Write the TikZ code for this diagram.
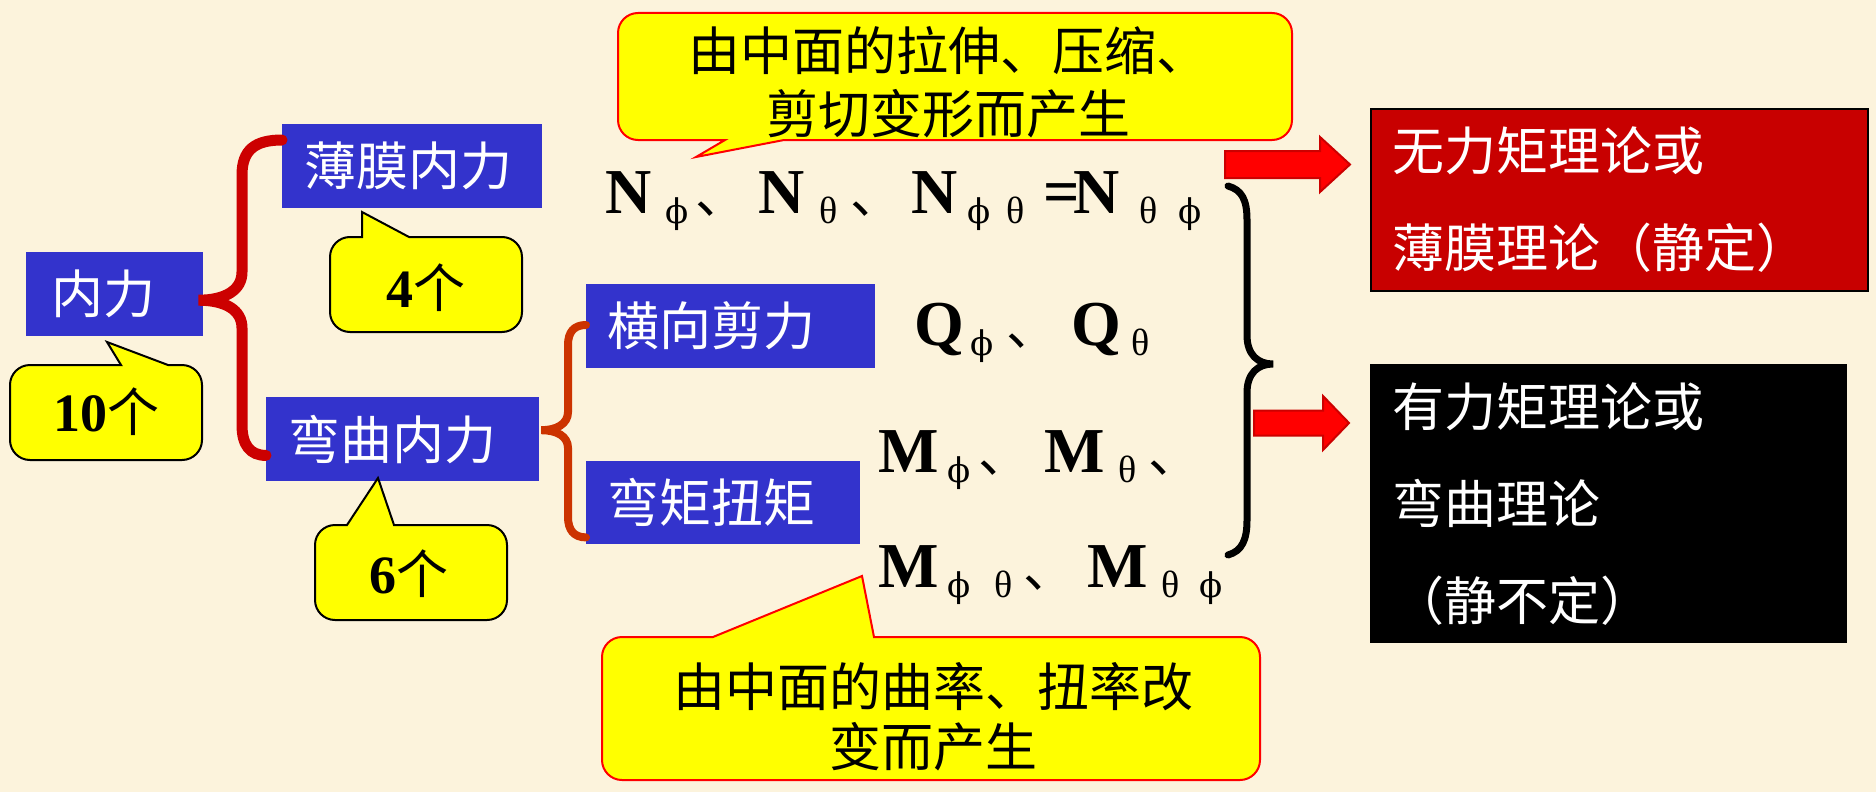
\documentclass[tikz,border=0pt]{standalone}
\usepackage{fontspec}
\setmainfont{Liberation Serif}
\newfontfamily\cjk{Noto Sans CJK SC}
\newfontfamily\symf{DejaVu Serif}
\usetikzlibrary{calc}
\definecolor{bgc}{RGB}{252,243,220}
\definecolor{boxblue}{RGB}{51,51,204}
\definecolor{boxred}{RGB}{200,0,0}
\definecolor{braceA}{RGB}{204,0,0}
\definecolor{braceB}{RGB}{204,51,0}
\definecolor{callyel}{RGB}{255,255,0}
\definecolor{arrred}{RGB}{255,0,0}
\definecolor{arrline}{RGB}{204,0,0}
\newcommand\pp[2]{\makebox[0pt][l]{\hspace*{#1pt}#2}}
\newcommand\sbs[1]{\raisebox{-10pt}{\fontsize{38}{38}\selectfont #1}}
\newcommand\ph{\raisebox{-10pt}{\symf\fontsize{34}{34}\selectfont ϕ}}
\newcommand\Lt[1]{{\rmfamily\fontsize{64}{64}\selectfont\bfseries #1}}
\newcommand\dun{{\cjk\fontsize{52}{52}\selectfont 、}}
\newcommand\num[1]{{\rmfamily\bfseries\fontsize{54}{54}\selectfont #1}}
\newcommand\callout[9]{%
  \draw[#1] (#7,#3) [rounded corners=20pt] -- (#4,#3) -- (#4,#5) -- (#2,#5) -- (#2,#3) [sharp corners] -- (#6,#3) -- (#8,#9) -- cycle;}
\tikzset{
  bbox/.style={fill=boxblue, text=white, font=\cjk\fontsize{52}{52}\selectfont,
    inner ysep=0pt, anchor=north west, align=left},
  theory/.style={text=white, font=\cjk\fontsize{52}{97}\selectfont,
    inner xsep=22pt, inner ysep=0pt, anchor=north west, align=left},
  smallcall/.style={fill=callyel, draw=black, line width=2pt},
  bigcall/.style={fill=callyel, draw=red, line width=2pt},
  calltext/.style={font=\cjk\fontsize{52}{52}\selectfont, align=center, inner sep=0pt},
  brace1/.style={draw=braceA, line width=11pt, line cap=round},
  brace2/.style={draw=braceB, line width=8pt, line cap=round},
  brace3/.style={draw=black, line width=7pt, line cap=round},
  blockarrow/.style={fill=arrred, draw=arrline, line width=2pt, line join=miter},
  row/.style={anchor=base west, inner sep=0pt}
}
\begin{document}
\begin{tikzpicture}[x=1pt,y=-1pt]
\useasboundingbox (0,0) rectangle (1876,792);
\fill[bgc] (0,0) rectangle (1876,792);

% blue boxes
\node[bbox, inner xsep=25pt, text width=127pt, minimum height=84pt] (neili) at (26,252) {内力};
\node[bbox, inner xsep=22pt, text width=216pt, minimum height=84pt] (bomo) at (282,124) {薄膜内力};
\node[bbox, inner xsep=22pt, text width=229pt, minimum height=84pt] (wanqu) at (266,397) {弯曲内力};
\node[bbox, inner xsep=21pt, text width=247pt, minimum height=84pt] (hengxiang) at (586,284) {横向剪力};
\node[bbox, inner xsep=21pt, text width=232pt, minimum height=83pt] (wanju) at (586,461) {弯矩扭矩};

% theory boxes
\node[theory, fill=boxred, draw=black, line width=1.5pt, text width=453pt, minimum height=182pt] (redbox) at (1370,108) {无力矩理论或\\薄膜理论（静定）};
\node[theory, fill=black, text width=433pt, minimum height=279pt] (blackbox) at (1370,364) {有力矩理论或\\弯曲理论\\（静不定）};

% braces
\coordinate (b1t) at ($(bomo.north west)+(0,16)$);
\coordinate (b1m) at ($(neili.east)+(-5,6)$);
\coordinate (b1b) at ($(wanqu.south west)+(0,-26)$);
\draw[brace1] (b1t) .. controls +(-27,0) and +(0,-25) .. (242,175) -- (242,272)
  .. controls +(0,18) and +(27,0) .. (b1m) .. controls +(27,0) and +(0,-18) .. (242,328)
  -- (242,425) .. controls +(0,20) and +(-16,0) .. (b1b);
\coordinate (b2t) at ($(hengxiang.north west)+(0,41)$);
\coordinate (b2m) at ($(wanqu.east)+(2,-9)$);
\coordinate (b2b) at ($(wanju.south west)+(0,-7)$);
\draw[brace2] (b2t) .. controls +(-12,0) and +(0,-13) .. (568,345) -- (568,412)
  .. controls +(0,12) and +(15,0) .. (b2m) .. controls +(15,0) and +(0,-12) .. (568,448)
  -- (568,517) .. controls +(0,13) and +(-12,0) .. (b2b);
\coordinate (b3t) at (1228,186);
\coordinate (b3m) at (1273,364);
\coordinate (b3b) at (1228,555);
\draw[brace3] (b3t) .. controls +(14,4) and +(0,-20) .. (1247,220) -- (1247,335)
  .. controls +(0,20) and +(-15,0) .. (b3m) .. controls +(-15,0) and +(0,-20) .. (1247,393)
  -- (1247,520) .. controls +(0,20) and +(14,-4) .. (b3b);

% block arrows
\coordinate (a1) at (1225,164.5);
\draw[blockarrow] ($(a1)+(0,-13.5)$) -- ++(95,0) -- ++(0,-14) -- ++(30,27.5) -- ++(-30,27.5) -- ++(0,-14) -- ++(-95,0) -- cycle;
\coordinate (a2) at (1254,423);
\draw[blockarrow] ($(a2)+(0,-12.5)$) -- ++(69,0) -- ++(0,-14.5) -- ++(26,27) -- ++(-26,27) -- ++(0,-14.5) -- ++(-69,0) -- cycle;

% callouts
\callout{bigcall}{618}{140}{1292}{13}{725}{784}{696}{157}
\node[calltext, font=\cjk\fontsize{52}{63}\selectfont] (topnote) at (948,82) {由中面的拉伸、压缩、\\剪切变形而产生};
\callout{bigcall}{602}{637}{1260}{780}{713}{874}{862}{576}
\node[calltext, font=\cjk\fontsize{52}{60}\selectfont] (botnote) at (933,717) {由中面的曲率、扭率改\\变而产生};
\callout{smallcall}{330}{237}{522}{332}{362}{409}{362}{212}
\node[calltext] (four) at (426,288) {\num{4}个};
\callout{smallcall}{10}{365}{202}{460}{121}{168}{107}{342}
\node[calltext] (ten) at (106,412) {\num{10}个};
\callout{smallcall}{315}{525}{507}{620}{347}{394}{378}{478}
\node[calltext] (six) at (409,574) {\num{6}个};

% symbol rows
\node[row] (nrow) at (605,213) {\pp{0}{\Lt{N}}\pp{60}{\ph}\pp{90}{\dun}\pp{153}{\Lt{N}}\pp{214}{\sbs{θ}}\pp{245}{\dun}\pp{306}{\Lt{N}}\pp{362}{\ph}\pp{401}{\sbs{θ}}\pp{438}{\Lt{=}}\pp{468}{\Lt{N}}\pp{534}{\sbs{θ}}\pp{573}{\ph}};
\node[row] (qrow) at (914,345) {\pp{0}{\Lt{Q}}\pp{56}{\ph}\pp{92}{\dun}\pp{157}{\Lt{Q}}\pp{217}{\sbs{θ}}};
\node[row] (mrow1) at (878,472) {\pp{0}{\Lt{M}}\pp{69}{\ph}\pp{100}{\dun}\pp{166}{\Lt{M}}\pp{240}{\sbs{θ}}\pp{270}{\dun}};
\node[row] (mrow2) at (878,587) {\pp{0}{\Lt{M}}\pp{69}{\ph}\pp{116}{\sbs{θ}}\pp{145}{\dun}\pp{209}{\Lt{M}}\pp{283}{\sbs{θ}}\pp{321}{\ph}};
\end{tikzpicture}
\end{document}
